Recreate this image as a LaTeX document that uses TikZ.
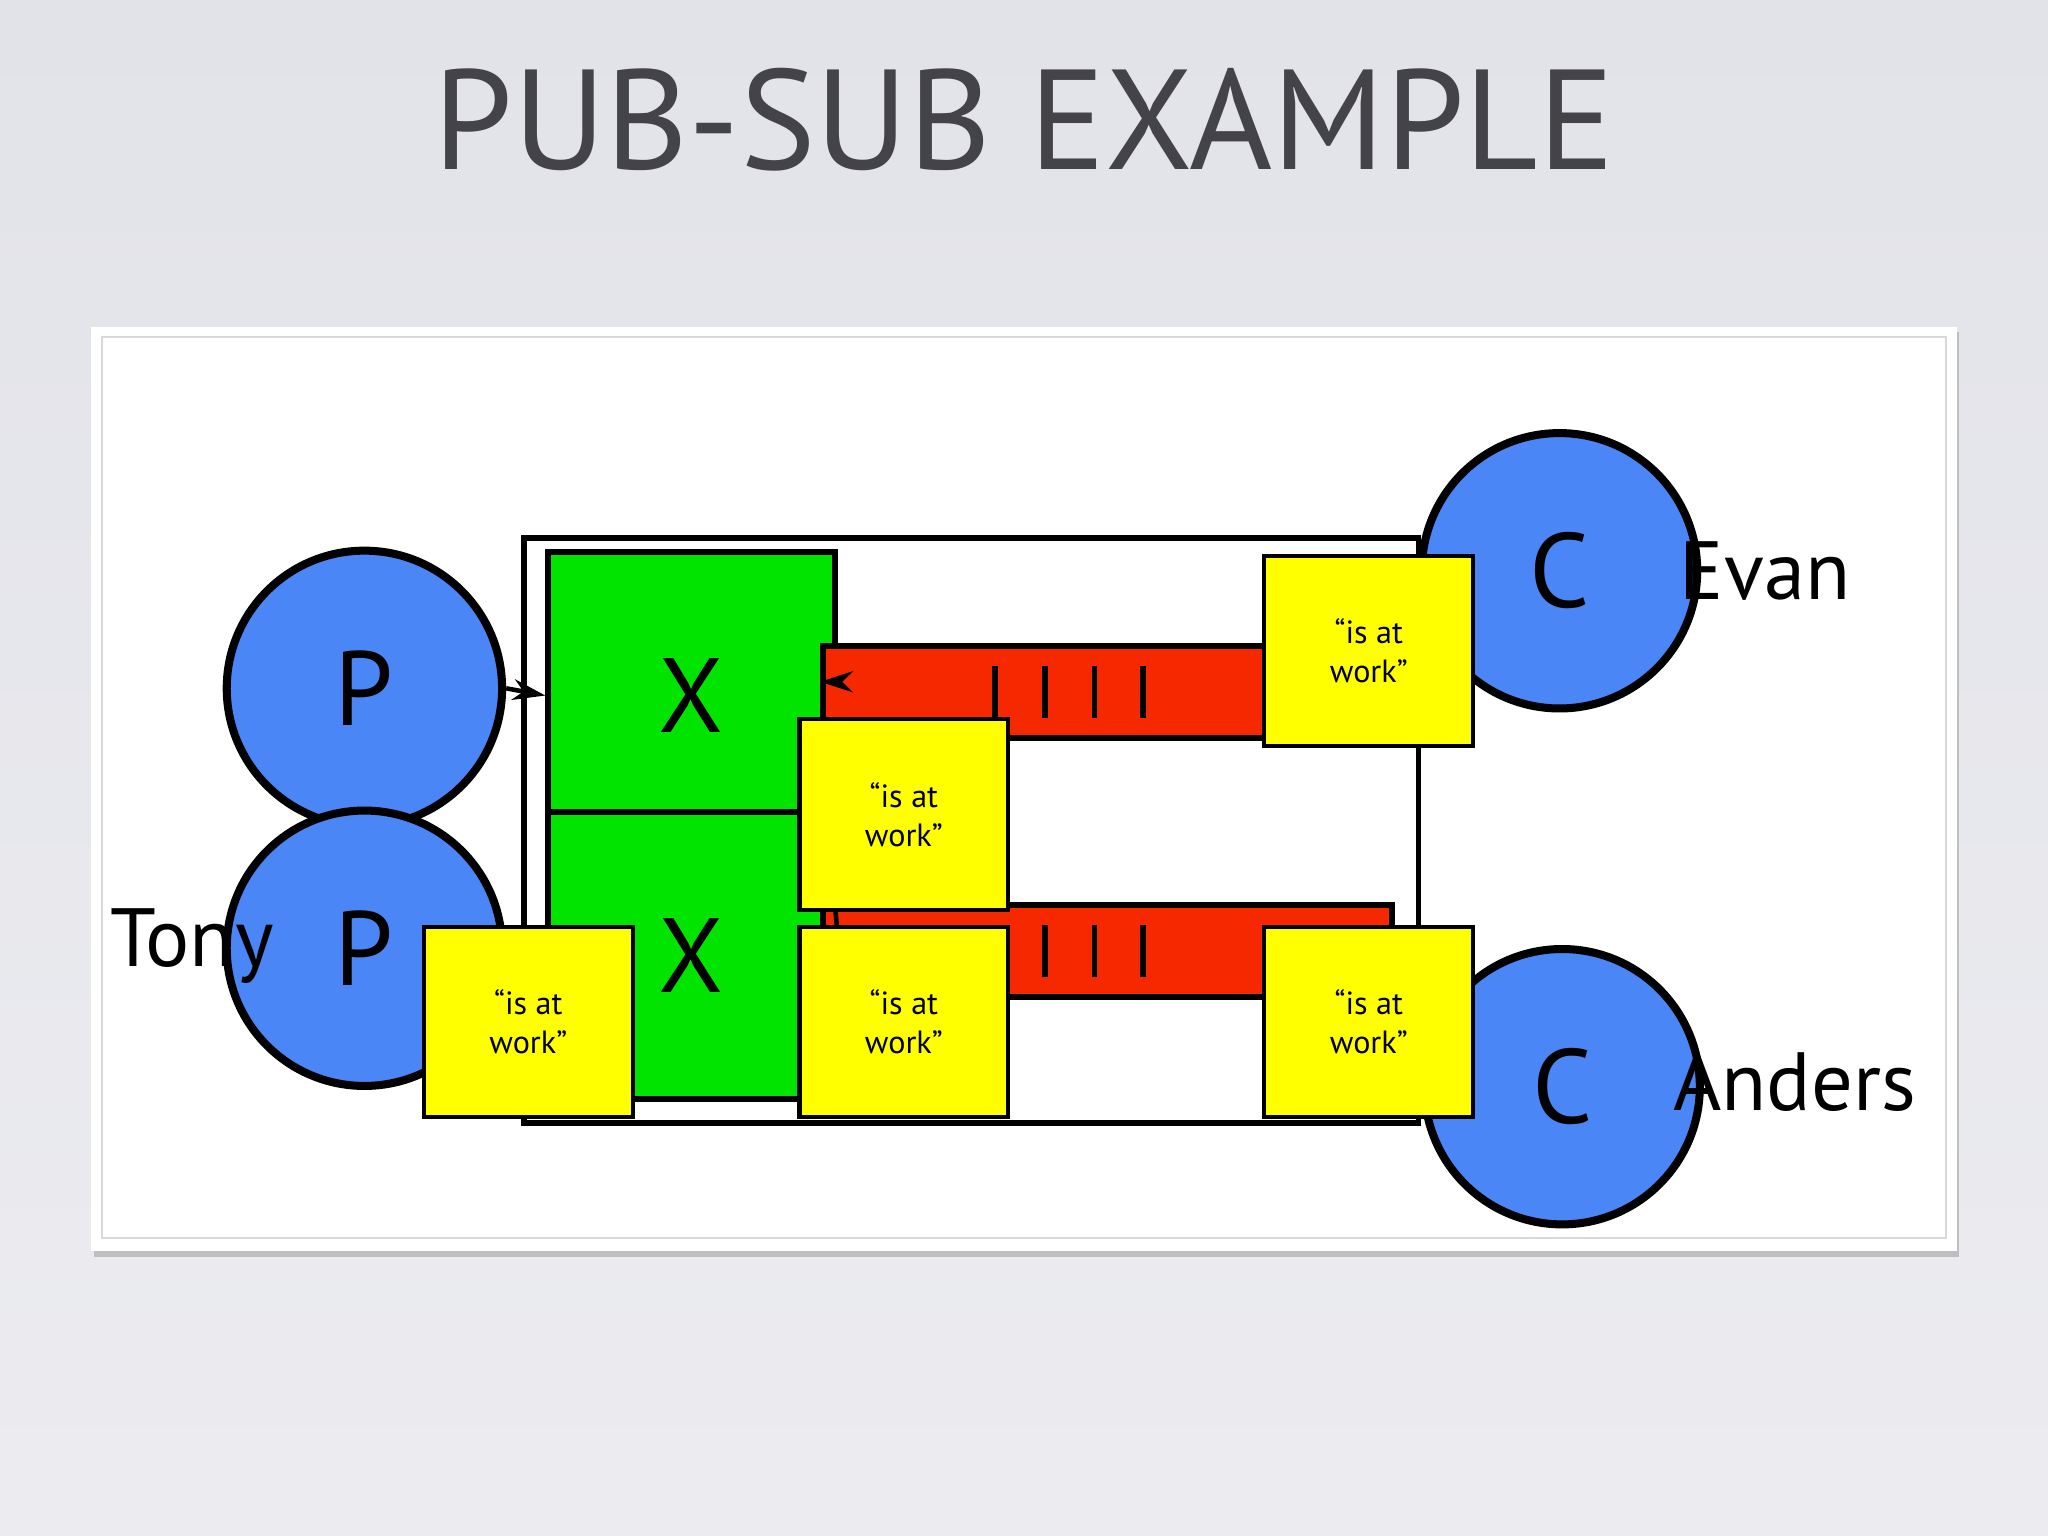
\documentclass[tikz,border=0pt]{standalone}
\usepackage{fontspec}
\setmainfont{PT Sans}
\usetikzlibrary{arrows.meta,calc}
\definecolor{bgtop}{RGB}{226,227,233}
\definecolor{bgbot}{RGB}{236,236,240}
\definecolor{pblue}{RGB}{74,134,246}
\definecolor{xgreen}{RGB}{0,228,0}
\definecolor{qred}{RGB}{246,40,0}
\definecolor{myel}{RGB}{255,255,0}
\definecolor{ttl}{RGB}{68,68,72}
\tikzset{
 circ/.style={circle,draw=black,line width=3.5pt,fill=pblue,minimum size=120,inner sep=0,font=\fontsize{46}{46}\selectfont},
 xbox/.style={draw=black,line width=2.5pt,fill=xgreen,minimum width=125,minimum height=125,inner sep=0,font=\fontsize{46}{46}\selectfont},
 queue/.style={draw=black,line width=2.5pt,fill=qred,minimum width=248,minimum height=40,inner sep=0},
 msg/.style={draw=black,line width=1.8pt,fill=myel,minimum width=91,minimum height=83,inner sep=0,align=center,font=\fontsize{14}{17}\selectfont},
 lbl/.style={font=\fontsize{36}{36}\selectfont},
 arr/.style={line width=2pt,-{Stealth[length=0.5cm,width=0.32cm]}}
}
\begin{document}
\begin{tikzpicture}[x=0.02cm,y=-0.02cm]
\shade[top color=bgtop,bottom color=bgbot] (0,0) rectangle (1568,1176);
\useasboundingbox (0,0) rectangle (1568,1176);
\node[text=ttl,font=\fontsize{62}{62}\selectfont] (title) at (784,92) {PUB-SUB EXAMPLE};
\fill[black!25] (72,254) rectangle (1500,962);
\fill[white] (70,250) rectangle (1498,958);
\draw[black!15,line width=0.8pt] (78,258) rectangle (1490,948);
\draw[line width=2.5pt] (401,412) rectangle (1086,860);

\node[circ] (p1) at (279,527) {P};
\node[circ] (p2) at (279,726) {P};
\node[xbox] (x1) at (529.5,532.5) {X};
\node[xbox] (x2) at (529.5,731.5) {X};
\node[queue] (q1) at (848,530) {};
\node[queue] (q2) at (848,728) {};
\foreach \y in {510,708}{
  \foreach \xx in {762,800,838,875}{
    \draw[line width=2.5pt] (\xx,\y) -- (\xx,\y+40);}}
\node[circ] (c1) at (1194,437) {C};
\node[circ] (c2) at (1196,832) {C};
\node[lbl] (tony) at (147,724) {Tony};
\node[lbl,anchor=west] (evan) at (1280,437) {Evan};
\node[lbl,anchor=west] (anders) at (1275,828) {Anders};

\draw[arr] (p1.east) -- (x1.west);
\draw[arr] (p2.east |- 0,721) -- (x2.west |- 0,721);
\draw[arr] (x1.east |- 0,522) -- (q1.west |- 0,522);
\draw[arr] (x2.east |- 0,721) -- (q2.west |- 0,721);
\draw[arr] (x2.east |- 0,718) -- (q1.south west);
\draw[arr] (q1.east |- 0,540) -- (c1);
\draw[arr] (q2.east |- 0,722) -- (c2);

\node[msg] (m1) at (1048,498.5) {“is at\\work”};
\node[msg] (m2) at (692,623.5) {“is at\\work”};
\node[msg] (m3) at (404.5,782.5) {“is at\\work”};
\node[msg] (m4) at (692,782.5) {“is at\\work”};
\node[msg] (m5) at (1048,782.5) {“is at\\work”};
\end{tikzpicture}
\end{document}
